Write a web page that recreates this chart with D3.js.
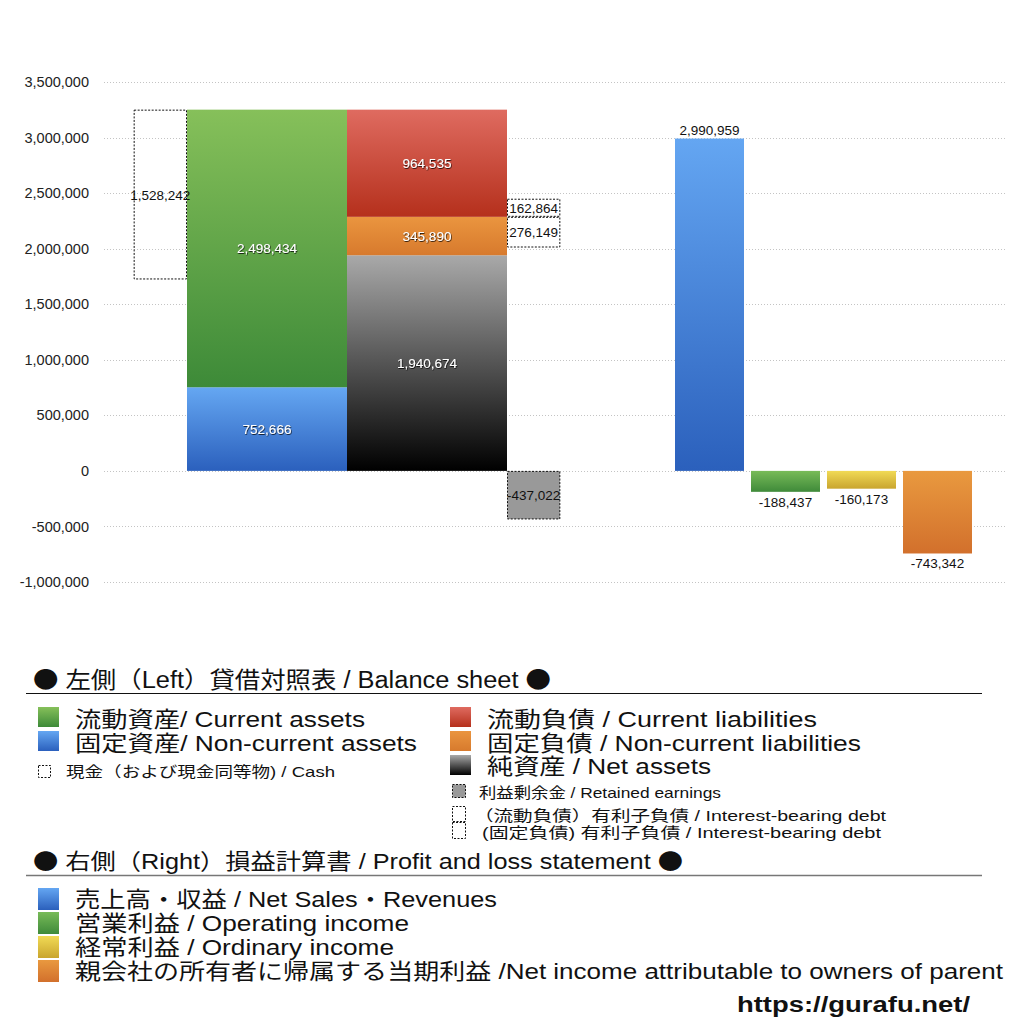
<!DOCTYPE html>
<html>
<head>
<meta charset="utf-8">
<script src="https://cdn.jsdelivr.net/npm/d3@7"></script>
<style>
  html, body { margin: 0; padding: 0; background: #fff; }
  svg { display: block; font-family: "Liberation Sans", "Noto Sans CJK JP", sans-serif; }
</style>
</head>
<body>
<div id="chart"></div>
<script>
// --- data ---
const yTicks = [-1000000, -500000, 0, 500000, 1000000, 1500000, 2000000, 2500000, 3000000, 3500000]

// balance sheet, bottom to top
const assetNames = ["固定資産", "流動資産"]
const assetValues = [752666, 2498434]
const liabNames = ["純資産", "固定負債", "流動負債"]
const liabValues = [1940674, 345890, 964535]
const cashValue = 1528242
const debtNames = ["(流動負債)有利子負債", "(固定負債)有利子負債"]
const debtValues = [162864, 276149]
const retainedValue = -437022

// profit and loss
const plNames = ["売上高・収益", "営業利益", "経常利益", "親会社の所有者に帰属する当期利益"]
const plValues = [2990959, -188437, -160173, -743342]

const WIDTH = 1024, HEIGHT = 1024
const fmt = v => d3.format(",")(v).replace("\u2212", "-")

const svg = d3.select("#chart").append("svg")
    .attr("width", WIDTH)
    .attr("height", HEIGHT)

const defs = svg.append("defs")

// vertical gradients: [id, top colour, bottom colour]
const grads = [
    ["gGreen", "#86c05a", "#3d8a38"],
    ["gBlue", "#65a7f2", "#2b60bd"],
    ["gRed", "#df6b60", "#b5301c"],
    ["gOrange", "#ea953f", "#d77a2d"],
    ["gBlack", "#a9a9a9", "#000000"],
    ["gGreen2", "#78bb58", "#3f8a3a"],
    ["gYellow", "#f1da55", "#c9a52e"],
    ["gOrange2", "#e9993f", "#d2702c"],
    ["gBlue2", "#64a6f2", "#2b60bc"]
]
grads.forEach(([id, c1, c2]) => {
    const g = defs.append("linearGradient").attr("id", id)
        .attr("x1", 0).attr("y1", 0).attr("x2", 0).attr("y2", 1)
    g.append("stop").attr("offset", "0%").attr("stop-color", c1)
    g.append("stop").attr("offset", "100%").attr("stop-color", c2)
})

const shadow = defs.append("filter").attr("id", "shadow")
    .attr("x", "-20%").attr("y", "-50%").attr("width", "140%").attr("height", "200%")
shadow.append("feDropShadow").attr("dx", 0.6).attr("dy", 0.8)
    .attr("stdDeviation", 0.6).attr("flood-color", "#000").attr("flood-opacity", 0.9)

// scales
const y = d3.scaleLinear().domain([-1000000, 3500000]).range([582, 82])

const xBS = d3.scaleBand().domain(["assets", "liab"]).range([187, 507]).padding(0)
const bw = xBS.bandwidth()
const sideW = bw / 3

const xPL = d3.scaleBand().domain(plNames).range([675, 972])
    .paddingInner(7 / 76).paddingOuter(0)

// grid + y axis
const yAxis = d3.axisLeft(y).tickValues(yTicks).tickSize(0).tickPadding(0)
    .tickFormat(fmt)
const yAxisGroup = svg.append("g").attr("transform", "translate(89,0)").call(yAxis)
yAxisGroup.select(".domain").remove()
yAxisGroup.selectAll("text")
    .attr("font-size", 14.5)
    .attr("fill", "#222")
    .attr("font-family", "'Liberation Sans', sans-serif")

svg.append("g").selectAll("line")
    .data(yTicks)
    .enter().append("line")
        .attr("x1", 104).attr("x2", 1005)
        .attr("y1", d => Math.round(y(d)) + 0.5)
        .attr("y2", d => Math.round(y(d)) + 0.5)
        .attr("stroke", "#c4c4c4")
        .attr("stroke-dasharray", "1,2")

// stacked helper
function stack(values) {
    let acc = 0
    return values.map(v => { const s = acc; acc += v; return [s, acc, v] })
}

const assetStack = stack(assetValues)
const liabStack = stack(liabValues)
const assetFills = ["gBlue", "gGreen"]
const liabFills = ["gBlack", "gOrange", "gRed"]

function drawStack(key, st, fills) {
    const g = svg.append("g")
    g.selectAll("rect")
        .data(st)
        .enter().append("rect")
            .attr("x", xBS(key))
            .attr("width", bw)
            .attr("y", d => y(d[1]))
            .attr("height", d => y(d[0]) - y(d[1]))
            .attr("fill", (d, i) => `url(#${fills[i]})`)
    g.selectAll("text")
        .data(st)
        .enter().append("text")
            .attr("x", xBS(key) + bw / 2)
            .attr("y", d => (y(d[0]) + y(d[1])) / 2 + 5)
            .attr("text-anchor", "middle")
            .attr("font-size", 13.5)
            .attr("fill", "#fff")
            .attr("filter", "url(#shadow)")
            .text(d => fmt(d[2]))
}
drawStack("assets", assetStack, assetFills)
drawStack("liab", liabStack, liabFills)

// dotted boxes: cash (from top of assets), interest-bearing debt, retained earnings
const assetTop = d3.sum(assetValues)
const curLiabBottom = liabValues[0] + liabValues[1]
const boxes = [
    { x: xBS("assets") - sideW, top: assetTop, bottom: assetTop - cashValue, v: cashValue, fill: "none" },
    { x: xBS("liab") + bw, top: curLiabBottom + debtValues[0], bottom: curLiabBottom, v: debtValues[0], fill: "none" },
    { x: xBS("liab") + bw, top: curLiabBottom, bottom: curLiabBottom - debtValues[1], v: debtValues[1], fill: "none" },
    { x: xBS("liab") + bw, top: 0, bottom: retainedValue, v: retainedValue, fill: "#999" }
]
const boxG = svg.append("g")
boxG.selectAll("rect")
    .data(boxes)
    .enter().append("rect")
        .attr("x", d => d.x + 0.5)
        .attr("y", d => y(d.top) + 0.5)
        .attr("width", sideW - 1)
        .attr("height", d => y(d.bottom) - y(d.top) - 1)
        .attr("fill", d => d.fill)
        .attr("stroke", "#111")
        .attr("stroke-width", 1)
        .attr("stroke-dasharray", "2,1.5")
boxG.selectAll("text")
    .data(boxes)
    .enter().append("text")
        .attr("x", d => d.x + sideW / 2)
        .attr("y", d => (y(d.top) + y(d.bottom)) / 2 + 5)
        .attr("text-anchor", "middle")
        .attr("font-size", 13.5)
        .attr("fill", "#111")
        .text(d => fmt(d.v))

// P&L bars
const plFills = ["gBlue2", "gGreen2", "gYellow", "gOrange2"]
const plG = svg.append("g")
plG.selectAll("rect")
    .data(plValues)
    .enter().append("rect")
        .attr("x", (d, i) => xPL(plNames[i]))
        .attr("width", xPL.bandwidth())
        .attr("y", d => y(Math.max(0, d)))
        .attr("height", d => Math.abs(y(d) - y(0)))
        .attr("fill", (d, i) => `url(#${plFills[i]})`)
plG.selectAll("text")
    .data(plValues)
    .enter().append("text")
        .attr("x", (d, i) => xPL(plNames[i]) + xPL.bandwidth() / 2)
        .attr("y", d => d >= 0 ? y(d) - 4 : y(d) + 15)
        .attr("text-anchor", "middle")
        .attr("font-size", 13.5)
        .attr("fill", "#111")
        .text(d => fmt(d))

// --- legend ---
function label(x, yy, size, txt, len, extra) {
    const t = svg.append("text")
        .attr("x", x).attr("y", yy)
        .attr("font-size", size)
        .attr("fill", "#111")
        .text(txt)
    if (len) t.attr("textLength", len).attr("lengthAdjust", "spacingAndGlyphs")
    if (extra) extra(t)
    return t
}
// heading with big CJK black circles at both ends
function heading(x, yy, size, txt, len) {
    const t = svg.append("text")
        .attr("x", x).attr("y", yy)
        .attr("font-size", size)
        .attr("fill", "#111")
        .attr("textLength", len).attr("lengthAdjust", "spacingAndGlyphs")
    t.append("tspan").attr("font-family", "'Noto Sans CJK JP'").text("●")
    t.append("tspan").text(" " + txt + " ")
    t.append("tspan").attr("font-family", "'Noto Sans CJK JP'").text("●")
}
function swatch(x, yy, w, h, fill, dotted) {
    svg.append("rect")
        .attr("x", x).attr("y", yy).attr("width", w).attr("height", h)
        .attr("fill", fill)
        .attr("stroke", dotted ? "#111" : "none")
        .attr("stroke-dasharray", dotted ? "2,1.5" : null)
}

heading(33, 688, 23, "左側（Left）貸借対照表 / Balance sheet", 518)
svg.append("line").attr("x1", 26).attr("x2", 982).attr("y1", 693.5).attr("y2", 693.5)
    .attr("stroke", "#111").attr("stroke-width", 1.2)

swatch(38, 707, 21, 20, "url(#gGreen)")
label(75, 727, 22, "流動資産/ Current assets", 290)
swatch(38, 731, 21, 20, "url(#gBlue)")
label(75, 751, 22, "固定資産/ Non-current assets", 342)
swatch(38.5, 765.5, 12, 12, "none", true)
label(66, 777, 15, "現金（および現金同等物) / Cash", 269)

swatch(450, 707, 21, 20, "url(#gRed)")
label(487, 727, 22, "流動負債 /  Current liabilities", 330)
swatch(450, 731, 21, 20, "url(#gOrange)")
label(487, 751, 22, "固定負債 / Non-current liabilities", 374)
swatch(450, 755, 21, 20, "url(#gBlack)")
label(487, 774, 22, "純資産 / Net assets", 224)
swatch(452.5, 784.5, 13, 13, "#999", true)
label(479, 798, 15, "利益剰余金 / Retained earnings", 242)
swatch(452.5, 806.5, 13, 15, "none", true)
swatch(452.5, 822.5, 13, 16, "none", true)
label(474, 821, 15, "（流動負債）有利子負債 / Interest-bearing debt", 412)
label(482, 838, 15, "(固定負債) 有利子負債 / Interest-bearing debt", 399)

heading(33, 869, 22, "右側（Right）損益計算書 / Profit and loss statement", 650)
svg.append("line").attr("x1", 26).attr("x2", 982).attr("y1", 875.5).attr("y2", 875.5)
    .attr("stroke", "#777").attr("stroke-width", 1.6)

const plLegend = [
    ["gBlue2", "売上高・収益 / Net Sales・Revenues", 422],
    ["gGreen2", "営業利益 / Operating income", 334],
    ["gYellow", "経常利益 / Ordinary income", 319],
    ["gOrange2", "親会社の所有者に帰属する当期利益 /Net income attributable to owners of parent", 928]
]
plLegend.forEach(([fill, txt, len], i) => {
    swatch(38, 888 + i * 24, 21, 22, `url(#${fill})`)
    label(75, 907 + i * 24, 22, txt, len)
})

label(737, 1012, 22, "https://gurafu.net/", 233, t => t.attr("font-weight", "bold"))
</script>
</body>
</html>
